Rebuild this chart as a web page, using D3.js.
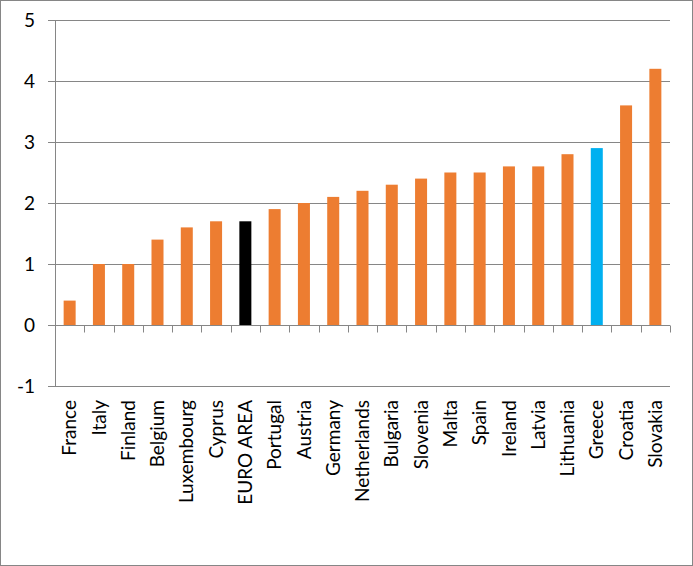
<!DOCTYPE html>
<html><head><meta charset="utf-8">
<script src="https://cdn.jsdelivr.net/npm/d3@7"></script>
<style>
html,body{margin:0;padding:0;background:#fff;}
svg{display:block;font-family:Lato,"Open Sans",sans-serif;}
</style></head>
<body>
<svg id="chart" width="693" height="566"></svg>
<script>
const categories = ["France","Italy","Finland","Belgium","Luxembourg","Cyprus","EURO AREA","Portugal","Austria","Germany","Netherlands","Bulgaria","Slovenia","Malta","Spain","Ireland","Latvia","Lithuania","Greece","Croatia","Slovakia"];
const values = [0.4,1.0,1.0,1.4,1.6,1.7,1.7,1.9,2.0,2.1,2.2,2.3,2.4,2.5,2.5,2.6,2.6,2.8,2.9,3.6,4.2];
const yTicks = [-1,0,1,2,3,4,5];
const highlight = {"EURO AREA":"#000000","Greece":"#00B0F0"};
const baseColor = "#ED7D31";

const svg = d3.select("#chart");
const W = 693, H = 566;
const mLeft = 55, mRight = 670, mTop = 20, mBottom = 386;

svg.append("rect").attr("x",0.5).attr("y",0.5).attr("width",W-1).attr("height",H-1)
  .attr("fill","#fff").attr("stroke","#868686").attr("stroke-width",1);

const x = d3.scaleBand().domain(categories).range([mLeft,mRight]).paddingInner(0.59).paddingOuter(0.295);
const xb = d3.scaleBand().domain(categories).range([mLeft,mRight]);
const y = d3.scaleLinear().domain([-1,5]).range([mBottom,mTop]);

// gridlines
svg.append("g").selectAll("line").data(yTicks).join("line")
  .attr("x1",mLeft-7).attr("x2",mRight)
  .attr("y1",d=>Math.round(y(d))+0.5).attr("y2",d=>Math.round(y(d))+0.5)
  .attr("stroke","#868686").attr("stroke-width",1);

// y axis line
svg.append("line").attr("x1",mLeft+0.5).attr("x2",mLeft+0.5).attr("y1",y(5)).attr("y2",y(-1))
  .attr("stroke","#868686");

// y labels
svg.append("g").selectAll("text").data(yTicks).join("text")
  .attr("x",35).attr("y",d=>y(d)).attr("dy","0.35em").attr("text-anchor","end")
  .attr("font-size",19).attr("fill","#000").text(d=>d);

// bars
svg.append("g").selectAll("rect").data(categories).join("rect")
  .attr("x",d=>x(d)).attr("width",x.bandwidth())
  .attr("y",(d,i)=>y(values[i])).attr("height",(d,i)=>y(0)-y(values[i]))
  .attr("fill",d=>highlight[d]||baseColor);

// category axis at zero
const zy = Math.round(y(0))+0.5;
svg.append("line").attr("x1",mLeft).attr("x2",mRight).attr("y1",zy).attr("y2",zy).attr("stroke","#868686");
const bounds = categories.map(c=>xb(c)).concat([mRight]);
svg.append("g").selectAll("line").data(bounds).join("line")
  .attr("x1",d=>Math.round(d)+0.5).attr("x2",d=>Math.round(d)+0.5)
  .attr("y1",zy).attr("y2",zy+7).attr("stroke","#868686");

// category labels
svg.append("g").selectAll("text").data(categories).join("text")
  .attr("transform",d=>`translate(${xb(d)+xb.bandwidth()/2},400) rotate(-90)`)
  .attr("text-anchor","end").attr("dy","0.35em")
  .attr("font-size",19).attr("fill","#000").text(d=>d);
</script>
</body></html>
